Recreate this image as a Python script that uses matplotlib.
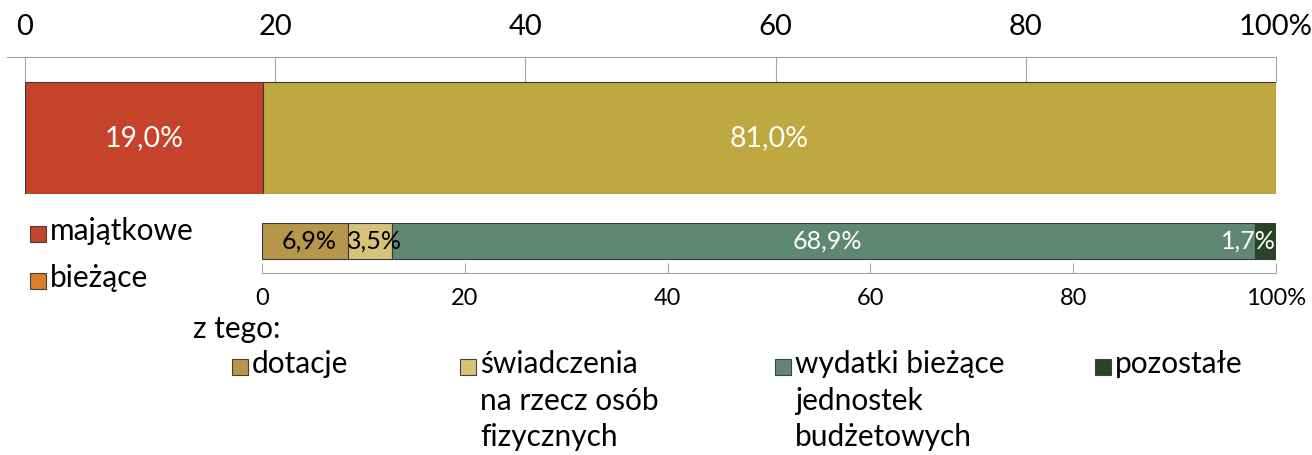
import matplotlib.pyplot as plt
from matplotlib.patches import Rectangle

plt.rcParams['font.family'] = ['Lato', 'DejaVu Sans']

# Dane: struktura wydatków (%)
kategorie = ['majątkowe', 'bieżące']
udzialy = [19.0, 81.0]
kolory = ['#C4432A', '#BFA840']
kolory_legendy = ['#C4432A', '#E07C2C']
etykiety_gora = ['19,0%', '81,0%']

podkategorie = ['dotacje', 'świadczenia\nna rzecz osób\nfizycznych',
                'wydatki bieżące\njednostek\nbudżetowych', 'pozostałe']
udzialy_pod = [6.9, 3.5, 68.9, 1.7]
kolory_pod = ['#B5964A', '#D7C27A', '#5E8875', '#2A4326']
kolory_txt_pod = ['black', 'black', 'white', 'white']
etykiety_pod = ['6,9%', '3,5%', '68,9%', '1,7%']

ticki = [0, 20, 40, 60, 80, 100]
ticki_lab = ['0', '20', '40', '60', '80', '100%']

W, H = 1312, 455
fig = plt.figure(figsize=(W / 100, H / 100), dpi=100)

# --- górny słupek ---
ax1 = fig.add_axes([25 / W, 1 - 194 / H, 1251 / W, 137 / H])
left = 0
for val, c, lab in zip(udzialy, kolory, etykiety_gora):
    ax1.barh(0, val, left=left, height=1, align='edge', color=c,
             edgecolor='#3a3a3a', linewidth=0.8, zorder=3)
    ax1.text(left + val / 2, 0.5, lab, ha='center', va='center',
             color='white', fontsize=20.5, zorder=4)
    left += val
ax1.set_xlim(0, 100)
ax1.set_ylim(0, 137 / 112)
ax1.set_yticks([])
ax1.xaxis.tick_top()
ax1.set_xticks(ticki)
ax1.set_xticklabels(ticki_lab, fontsize=21)
ax1.tick_params(axis='x', direction='in', length=18, color='#a6a6a6',
                width=0.8)
for s in ['left', 'right', 'bottom']:
    ax1.spines[s].set_visible(False)
ax1.spines['top'].set_color('#a6a6a6')
ax1.plot([-0.014, 0], [1, 1], color='#a6a6a6', lw=0.8,
         transform=ax1.transAxes, clip_on=False)
for t in ax1.xaxis.get_major_ticks():
    t.set_pad(12)

# --- dolny słupek (struktura wydatków bieżących) ---
ax2 = fig.add_axes([262 / W, 1 - 273 / H, 1014 / W, 50 / H])
suma = sum(udzialy_pod)
left = 0
for i, (val, c) in enumerate(zip(udzialy_pod, kolory_pod)):
    w = val / suma * 100
    ax2.barh(0.28, w, left=left, height=0.72, align='edge', color=c,
             edgecolor='#3a3a3a', linewidth=0.8, zorder=3)
    if i == len(udzialy_pod) - 1:
        ax2.text(left + w, 0.64, etykiety_pod[i], ha='right', va='center',
                 color=kolory_txt_pod[i], fontsize=18, zorder=4)
    else:
        ax2.text(left + w / 2 + 0.4, 0.64, etykiety_pod[i], ha='center',
                 va='center', color=kolory_txt_pod[i], fontsize=18, zorder=4)
    left += w
ax2.set_xlim(0, 100)
ax2.set_ylim(0, 1)
ax2.set_yticks([])
ax2.set_xticks(ticki)
ax2.set_xticklabels(ticki_lab, fontsize=17)
ax2.tick_params(axis='x', direction='in', length=7, color='#a6a6a6',
                width=0.8, pad=11)
for s in ['left', 'right', 'top']:
    ax2.spines[s].set_visible(False)
ax2.spines['bottom'].set_color('#a6a6a6')

# --- legendy ---
def wpis(x, y, kolor, tekst):
    fig.patches.append(Rectangle((x / W, 1 - (y + 8) / H), 16 / W, 16 / H,
                                 transform=fig.transFigure,
                                 facecolor=kolor, edgecolor='#404040',
                                 linewidth=0.8))
    fig.text((x + 20) / W, 1 - (y - 17) / H, tekst, ha='left', va='top',
             fontsize=21.5, linespacing=1.38)

wpis(30, 234, kolory_legendy[0], kategorie[0])
wpis(30, 281, kolory_legendy[1], kategorie[1])

fig.text(193 / W, 1 - 315 / H, 'z tego:', ha='left', va='top', fontsize=21.5)
for x, c, t in zip([232, 460, 775, 1095], kolory_pod, podkategorie):
    wpis(x, 367, c, t)

fig.savefig('out.png', dpi=100)
